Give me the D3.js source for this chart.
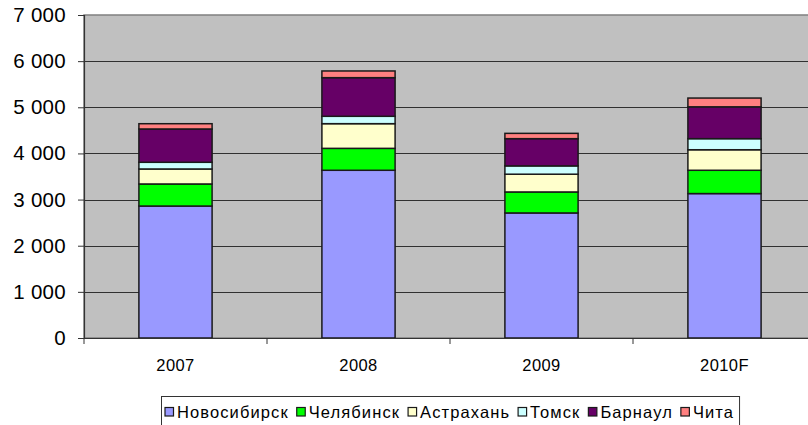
<!DOCTYPE html>
<html>
<head>
<meta charset="utf-8">
<script src="https://cdn.jsdelivr.net/npm/d3@7"></script>
<style>
  html, body { margin: 0; padding: 0; background: #fff; overflow: hidden; }
  svg { display: block; font-family: "Liberation Sans", Arial, sans-serif; }
</style>
</head>
<body>
<div id="chart"></div>
<script>
// data
const years = ['2007', '2008', '2009', '2010F'];
const cities = ['Новосибирск', 'Челябинск', 'Астрахань', 'Томск', 'Барнаул', 'Чита'];
const novosibirsk = [2860, 3635, 2710, 3130];
const chelyabinsk = [478, 475, 455, 505];
const astrakhan = [325, 535, 385, 445];
const tomsk = [145, 160, 180, 240];
const barnaul = [722, 837, 590, 690];
const chita = [114, 145, 115, 190];
const yTicks = [0, 1000, 2000, 3000, 4000, 5000, 6000, 7000];

const colors = ['#9999ff', '#00ff00', '#ffffcc', '#ccffff', '#660066', '#ff8080'];
const series = [novosibirsk, chelyabinsk, astrakhan, tomsk, barnaul, chita];

const width = 808, height = 425;
const plot = { left: 84, top: 15, right: 816, bottom: 338 };

const svg = d3.select('#chart').append('svg')
  .attr('width', width)
  .attr('height', height);

const x = d3.scaleBand()
  .domain(years)
  .range([plot.left, plot.right])
  .paddingInner(0.6)
  .paddingOuter(0.3);

const y = d3.scaleLinear()
  .domain([0, 7000])
  .range([plot.bottom, plot.top]);

// plot area background
svg.append('rect')
  .attr('x', plot.left)
  .attr('y', plot.top)
  .attr('width', plot.right - plot.left)
  .attr('height', plot.bottom - plot.top)
  .attr('fill', '#c0c0c0')
  .attr('stroke', '#808080')
  .attr('stroke-width', 1.5);

// gridlines
svg.append('g')
  .selectAll('line')
  .data(yTicks.filter(d => d > 0 && d < 7000))
  .enter().append('line')
  .attr('x1', plot.left)
  .attr('x2', plot.right)
  .attr('y1', d => Math.round(y(d)) + 0.5)
  .attr('y2', d => Math.round(y(d)) + 0.5)
  .attr('stroke', '#303030')
  .attr('stroke-width', 1.2);

// stacked bars
const rows = years.map((yr, i) => {
  const row = { year: yr };
  cities.forEach((c, j) => { row[c] = series[j][i]; });
  return row;
});
const stacked = d3.stack().keys(cities)(rows);

svg.append('g')
  .selectAll('g')
  .data(stacked)
  .enter().append('g')
  .attr('fill', (d, i) => colors[i])
  .selectAll('rect')
  .data(d => d)
  .enter().append('rect')
  .attr('x', d => x(d.data.year))
  .attr('width', x.bandwidth())
  .attr('y', d => y(d[1]))
  .attr('height', d => y(d[0]) - y(d[1]))
  .attr('stroke', '#1a1a1a')
  .attr('stroke-width', 1.5);

// y axis
const yAxis = svg.append('g')
  .attr('transform', `translate(${plot.left},0)`)
  .call(d3.axisLeft(y)
    .tickValues(yTicks)
    .tickSize(6)
    .tickPadding(12)
    .tickFormat(d => d3.format(',')(d).replace(/,/g, ' ')));
yAxis.select('.domain').attr('stroke', '#333').attr('stroke-width', 1.2);
yAxis.selectAll('.tick line').attr('stroke', '#333');
yAxis.selectAll('text')
  .attr('fill', '#000')
  .style('font-size', '20.5px')
  .style('letter-spacing', '0.3px');

// x axis
const xAxis = svg.append('g')
  .attr('transform', `translate(0,${plot.bottom})`)
  .call(d3.axisBottom(x).tickSize(0).tickPadding(21));
xAxis.select('.domain').attr('stroke', '#333').attr('stroke-width', 1.2);
xAxis.selectAll('text')
  .attr('fill', '#000')
  .style('font-size', '16.5px')
  .style('letter-spacing', '0.4px');

// ticks between categories
svg.append('g')
  .selectAll('line')
  .data(d3.range(years.length + 1))
  .enter().append('line')
  .attr('x1', i => plot.left + i * x.step())
  .attr('x2', i => plot.left + i * x.step())
  .attr('y1', plot.bottom)
  .attr('y2', plot.bottom + 6)
  .attr('stroke', '#333');

// legend
const legend = svg.append('g');
const legendBox = legend.append('rect')
  .attr('fill', '#fff')
  .attr('stroke', '#333');
let lx = 165;
const ly = 412;
cities.forEach((c, i) => {
  legend.append('rect')
    .attr('x', lx)
    .attr('y', ly - 4.5)
    .attr('width', 8.5)
    .attr('height', 8.5)
    .attr('fill', colors[i])
    .attr('stroke', '#1a1a1a')
    .attr('stroke-width', 1.2);
  const t = legend.append('text')
    .attr('x', lx + 12)
    .attr('y', ly + 5.5)
    .style('font-size', '16.5px')
    .style('letter-spacing', '1.1px')
    .text(c);
  lx += 12 + t.node().getComputedTextLength() + 8;
});
legendBox
  .attr('x', 161.5)
  .attr('y', 396.5)
  .attr('width', lx - 161 - 3)
  .attr('height', 34);
</script>
</body>
</html>
